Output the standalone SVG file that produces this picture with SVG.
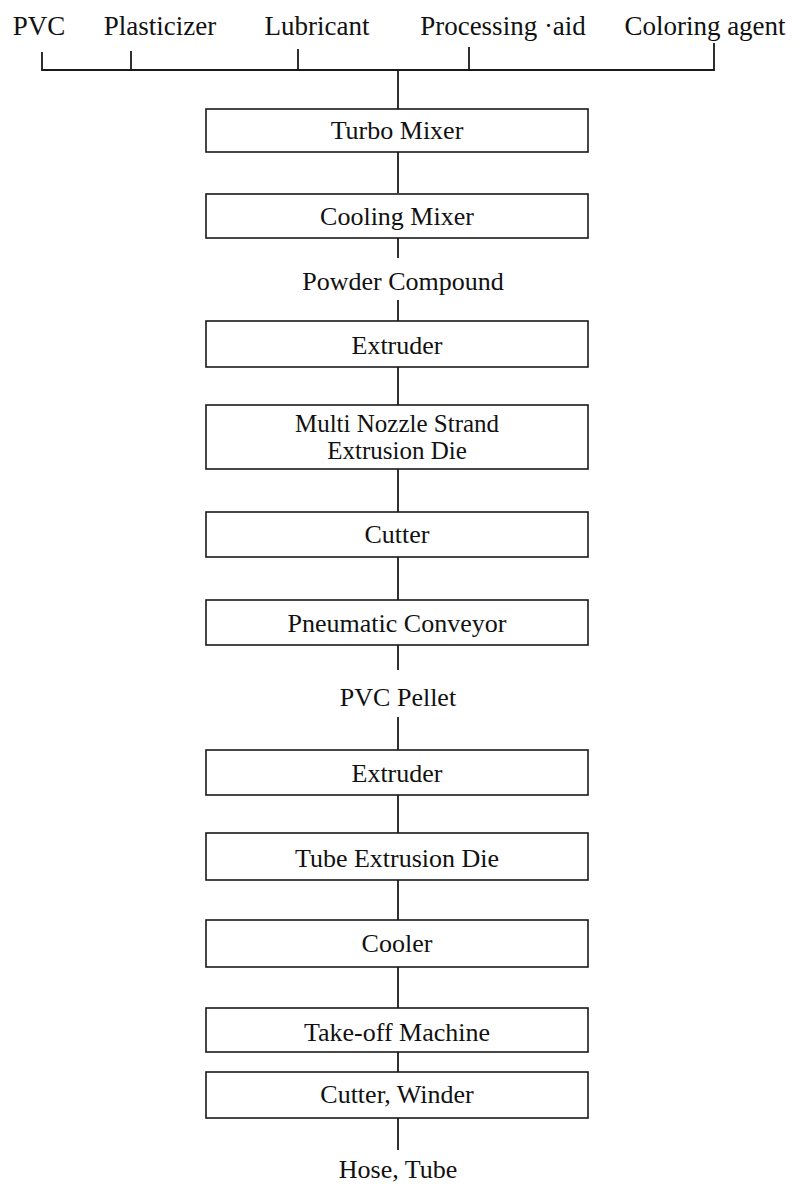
<svg xmlns="http://www.w3.org/2000/svg" width="797" height="1187" viewBox="0 0 797 1187">
<style>
.bg{fill:#ffffff}
.box{fill:#ffffff;stroke:#1a1a1a;stroke-width:1.6}
.ln{fill:none;stroke:#1a1a1a;stroke-width:1.8}
text{font-family:"Liberation Serif","Times New Roman",serif;fill:#111111;text-anchor:middle}
.top{font-size:27px}
.lab{font-size:26px}
.lab2{font-size:25px}
</style>
<rect class="bg" x="0" y="0" width="797" height="1187"/>
<g id="inputs">
<text class="top" x="39" y="35">PVC</text>
<text class="top" x="160" y="35">Plasticizer</text>
<text class="top" x="317" y="35">Lubricant</text>
<text class="top" x="503" y="35">Processing ·aid</text>
<text class="top" x="705" y="35">Coloring agent</text>
</g>
<g id="connectors">
<path class="ln" d="M42,52 V70 H714 V43"/>
<path class="ln" d="M131,51 V70 M298,49 V70 M469,47 V70"/>
<path class="ln" d="M398,70 V109"/>
<path class="ln" d="M398,152 V193"/>
<path class="ln" d="M398,238 V258"/>
<path class="ln" d="M398,300 V321"/>
<path class="ln" d="M398,367 V405"/>
<path class="ln" d="M398,469 V512"/>
<path class="ln" d="M398,557 V600"/>
<path class="ln" d="M398,645 V670"/>
<path class="ln" d="M398,717 V750"/>
<path class="ln" d="M398,795 V833"/>
<path class="ln" d="M398,880 V920"/>
<path class="ln" d="M398,967 V1008"/>
<path class="ln" d="M398,1052 V1072"/>
<path class="ln" d="M398,1118 V1150"/>
</g>
<g id="turbo-mixer">
<rect class="box" x="206" y="109" width="382" height="43"/>
<text class="lab" x="397" y="139">Turbo Mixer</text>
</g>
<g id="cooling-mixer">
<rect class="box" x="206" y="194" width="382" height="44"/>
<text class="lab" x="397" y="225">Cooling Mixer</text>
</g>
<g id="powder-compound">
<text class="lab" x="403" y="290">Powder Compound</text>
</g>
<g id="extruder-1">
<rect class="box" x="206" y="321" width="382" height="46"/>
<text class="lab" x="397" y="354">Extruder</text>
</g>
<g id="strand-die">
<rect class="box" x="206" y="405" width="382" height="64"/>
<text class="lab2" x="397" y="432">Multi Nozzle Strand</text>
<text class="lab2" x="397" y="459">Extrusion Die</text>
</g>
<g id="cutter">
<rect class="box" x="206" y="512" width="382" height="45"/>
<text class="lab" x="397" y="543">Cutter</text>
</g>
<g id="pneumatic-conveyor">
<rect class="box" x="206" y="600" width="382" height="45"/>
<text class="lab" x="397" y="632">Pneumatic Conveyor</text>
</g>
<g id="pvc-pellet">
<text class="lab" x="398" y="706">PVC Pellet</text>
</g>
<g id="extruder-2">
<rect class="box" x="206" y="750" width="382" height="45"/>
<text class="lab" x="397" y="782">Extruder</text>
</g>
<g id="tube-die">
<rect class="box" x="206" y="833" width="382" height="47"/>
<text class="lab" x="397" y="867">Tube Extrusion Die</text>
</g>
<g id="cooler">
<rect class="box" x="206" y="920" width="382" height="47"/>
<text class="lab" x="397" y="952">Cooler</text>
</g>
<g id="take-off">
<rect class="box" x="206" y="1008" width="382" height="44"/>
<text class="lab" x="397" y="1041">Take-off Machine</text>
</g>
<g id="cutter-winder">
<rect class="box" x="206" y="1072" width="382" height="46"/>
<text class="lab" x="397" y="1103">Cutter, Winder</text>
</g>
<g id="hose-tube">
<text class="lab" x="398" y="1178">Hose, Tube</text>
</g>
</svg>
